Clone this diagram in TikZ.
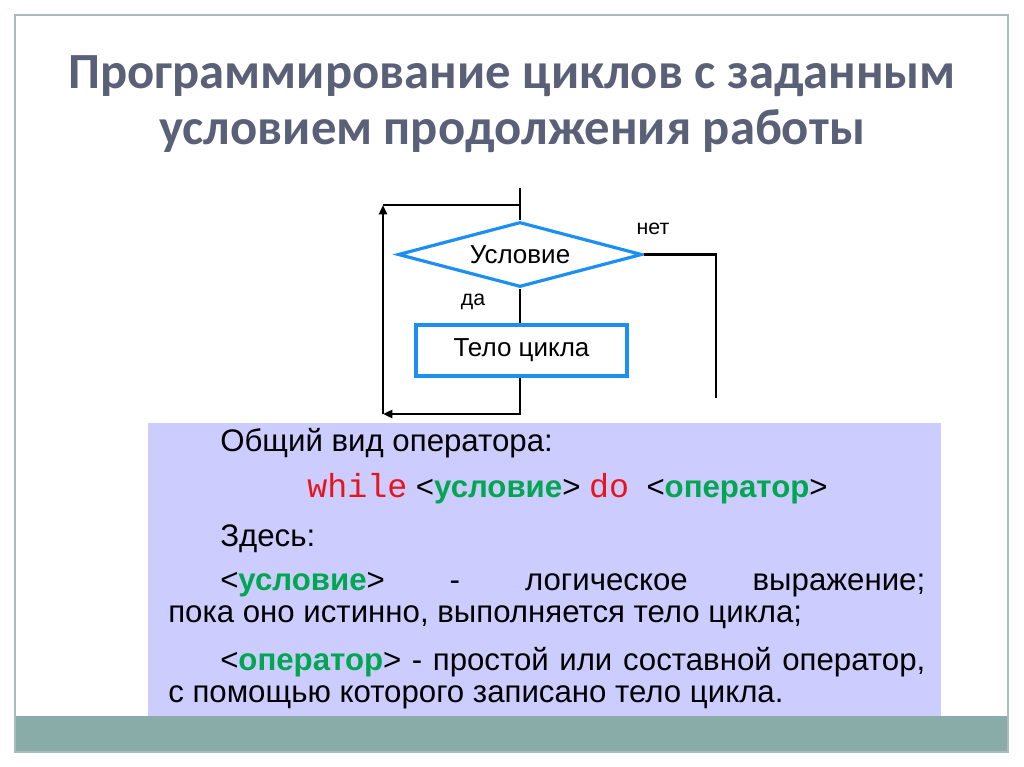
\documentclass[tikz,border=0pt]{standalone}
\usepackage{fontspec}
\setmainfont{Liberation Sans}
\newfontfamily\titlefont{Carlito}
\newfontfamily\codefont{Liberation Mono}
\usetikzlibrary{shapes.geometric,arrows.meta}

\definecolor{titlegray}{HTML}{5A6078}
\definecolor{framegray}{HTML}{A9BDBC}
\definecolor{bandteal}{HTML}{8AACA9}
\definecolor{lavender}{HTML}{CCCCFF}
\definecolor{boxblue}{HTML}{1E8FF2}
\definecolor{kwred}{HTML}{E8141C}
\definecolor{argreen}{HTML}{00A650}

\newcommand{\loopArg}[1]{\textless{\bfseries\color{argreen}#1}\textgreater}
\newcommand{\loopKw}[1]{{\codefont\fontsize{25}{24}\selectfont\color{kwred}#1}}

\begin{document}
\begin{tikzpicture}[x=0.75pt,y=-0.75pt,
  flow/.style={line width=2pt,-{Triangle[length=7pt,width=6pt]}},
  line/.style={line width=2pt},
  blockbox/.style={draw=boxblue,line width=2.4pt,inner sep=0pt,font=\fontsize{19.5}{22}\selectfont},
  small/.style={font=\fontsize{16}{19}\selectfont,inner sep=0pt},
  body/.style={anchor=base west,inner sep=0pt,font=\fontsize{23.4}{24}\selectfont}]

\useasboundingbox (0,0) rectangle (1024,767);

% Frame and bottom band
\fill[bandteal] (15,716) rectangle (1008,752);
\draw[framegray,line width=1.2pt] (15,15) rectangle (1008,752);

% Title
\node[text=titlegray,align=center,font=\titlefont\bfseries\fontsize{38}{42}\selectfont]
  (title) at (512,104) {Программирование циклов с заданным\\условием продолжения работы};

% Flowchart
\coordinate (in) at (520,188);
\node[blockbox,diamond,shape aspect=3.75,minimum width=244*0.75pt,minimum height=65*0.75pt]
  (cond) at (520,254.5) {Условие};
\node[blockbox,rectangle,minimum width=211*0.75pt,minimum height=51*0.75pt]
  (loopbody) at (521.5,350.5) {Тело цикла};
\coordinate (lb) at (383,414);
\coordinate (lt) at (383,205);
\coordinate (out) at (716,398);

\draw[line] (in) -- (cond.north);
\draw[line] (cond.south) -- (cond.south |- loopbody.north);
\draw[flow] (cond.south |- loopbody.south) |- (lb);
\draw[flow] (lb) -- (lt);
\draw[line] (lt) -- (lt -| cond.north);
\draw[line] (cond.east) -| (out);

\node[small] (yes) at (473,302) {да};
\node[small] (no) at (653,229) {нет};

% Text box
\fill[lavender] (148,423) rectangle (941,716);

\node[body] (l1) at (220,451) {Общий вид оператора:};
\node[body] (l2) at (307,497) {\loopKw{while} \loopArg{условие} \loopKw{do}\ \ \loopArg{оператор}};
\node[body] (l3) at (220,546) {Здесь:};
\node[body] (l4) at (220,590) {\makebox[528.75pt][s]{\loopArg{условие} - логическое выражение;}};
\node[body] (l5) at (168,622) {пока оно истинно, выполняется тело цикла;};
\node[body] (l6) at (220,670) {\makebox[528.75pt][s]{\loopArg{оператор} - простой или составной оператор,}};
\node[body] (l7) at (168,702) {с помощью которого записано тело цикла.};

\end{tikzpicture}
\end{document}
